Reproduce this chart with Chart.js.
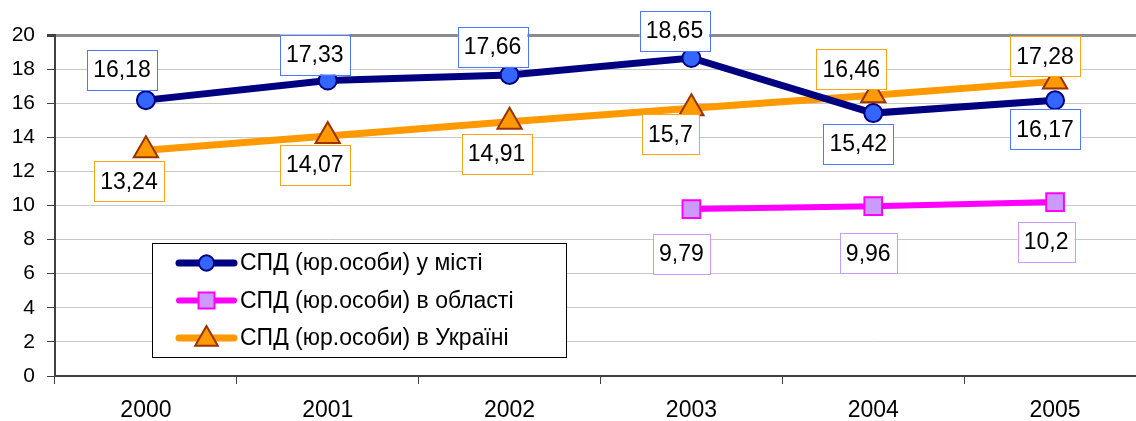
<!DOCTYPE html>
<html>
<head>
<meta charset="utf-8">
<script src="https://cdn.jsdelivr.net/npm/chart.js@4.4.1/dist/chart.umd.min.js"></script>
<style>
  html, body { margin: 0; padding: 0; background: #fff; overflow: hidden; }
  #wrap { width: 1162px; height: 421px; }
</style>
</head>
<body>
<div id="wrap"><canvas id="chart" width="1162" height="421"></canvas></div>
<script>
  // ---- data ----
  var years = ['2000', '2001', '2002', '2003', '2004', '2005'];
  var cityValues = [16.18, 17.33, 17.66, 18.65, 15.42, 16.17];
  var oblastValues = [null, null, null, 9.79, 9.96, 10.2];
  var ukraineValues = [13.24, 14.07, 14.91, 15.7, 16.46, 17.28];
  var yTicks = [0, 2, 4, 6, 8, 10, 12, 14, 16, 18, 20];
  var seriesNames = ['СПД (юр.особи) у місті', 'СПД (юр.особи) в області', 'СПД (юр.особи) в Україні'];

  // value-label box offsets from each point (px): left shift, vertical shift
  var cityLabelDx = [24, 13, 17, 17, 15, 10];
  var cityLabelDy = [-30, -26, -28, -27, 31, 29];
  var oblastLabelDx = [0, 0, 0, 10, 5, 9];
  var oblastLabelDy = [45, 45, 45, 45, 47, 40];
  var ukraineLabelDx = [17, 13, 13, 21, 22, 10];
  var ukraineLabelDy = [31, 29, 32, 26, -26, -25];

  var FONT = "'Liberation Sans', Arial, sans-serif";

  // boxed value labels
  var valueLabels = {
    id: 'valueLabels',
    afterDatasetsDraw: function (chart) {
      var ctx = chart.ctx;
      ctx.save();
      ctx.font = '23px ' + FONT;
      ctx.textAlign = 'center';
      ctx.textBaseline = 'middle';
      chart.data.datasets.forEach(function (ds, i) {
        var meta = chart.getDatasetMeta(i);
        meta.data.forEach(function (pt, j) {
          var v = ds.data[j];
          if (v === null || v === undefined) return;
          var txt = String(v).replace('.', ',');
          var w = ctx.measureText(txt).width + 12;
          var h = 40;
          var cx = pt.x - ds.labelDx[j];
          var cy = pt.y + ds.labelDy[j];
          ctx.fillStyle = '#fff';
          ctx.fillRect(cx - w / 2, cy - h / 2, w, h);
          ctx.strokeStyle = ds.labelBorder;
          ctx.lineWidth = 1;
          ctx.strokeRect(Math.round(cx - w / 2) + 0.5, Math.round(cy - h / 2) + 0.5, Math.round(w), h);
          ctx.fillStyle = '#000';
          ctx.fillText(txt, cx, cy + 1);
        });
      });
      ctx.restore();
    }
  };

  function drawMarker(ctx, ds, x, y, scale) {
    ctx.fillStyle = ds.pointBackgroundColor;
    ctx.strokeStyle = ds.pointBorderColor;
    ctx.lineWidth = ds.pointBorderWidth;
    var r = ds.pointRadius * scale;
    ctx.beginPath();
    if (ds.pointStyle === 'circle') {
      ctx.arc(x, y, r, 0, Math.PI * 2);
    } else if (ds.pointStyle === 'rect') {
      ctx.rect(x - r * 0.75, y - r * 0.75, r * 1.5, r * 1.5);
    } else {
      ctx.moveTo(x, y - r);
      ctx.lineTo(x + r * 0.95, y + r * 0.65);
      ctx.lineTo(x - r * 0.95, y + r * 0.65);
      ctx.closePath();
    }
    ctx.fill();
    ctx.stroke();
  }

  // legend box inside the plot
  var boxLegend = {
    id: 'boxLegend',
    afterDraw: function (chart) {
      var ctx = chart.ctx;
      var x0 = 152, y0 = 243, w = 414, h = 114;
      ctx.save();
      ctx.fillStyle = '#fff';
      ctx.fillRect(x0, y0, w, h);
      ctx.strokeStyle = '#000';
      ctx.lineWidth = 1;
      ctx.strokeRect(x0 + 0.5, y0 + 0.5, w, h);
      ctx.font = '23px ' + FONT;
      ctx.textBaseline = 'middle';
      chart.data.datasets.forEach(function (ds, i) {
        var yy = y0 + 20 + i * 37.5;
        ctx.strokeStyle = ds.borderColor;
        ctx.lineWidth = ds.borderWidth;
        ctx.lineCap = 'round';
        ctx.beginPath();
        ctx.moveTo(179, yy);
        ctx.lineTo(234, yy);
        ctx.stroke();
        drawMarker(ctx, ds, 206.5, yy, 0.85);
        ctx.fillStyle = '#000';
        ctx.fillText(ds.label, 240, yy + 1);
      });
      ctx.restore();
    }
  };

  new Chart(document.getElementById('chart'), {
    type: 'line',
    data: {
      labels: years,
      datasets: [
        {
          label: seriesNames[0],
          data: cityValues,
          borderColor: '#000080',
          borderWidth: 7,
          pointStyle: 'circle',
          pointRadius: 9,
          pointBackgroundColor: '#3366ff',
          pointBorderColor: '#000080',
          pointBorderWidth: 2,
          labelBorder: '#4d79ff',
          labelDx: cityLabelDx,
          labelDy: cityLabelDy
        },
        {
          label: seriesNames[1],
          data: oblastValues,
          borderColor: '#ff00ff',
          borderWidth: 6,
          pointStyle: 'rect',
          pointRadius: 12.5,
          pointBackgroundColor: '#cc99ff',
          pointBorderColor: '#ff00ff',
          pointBorderWidth: 2,
          labelBorder: '#cc99ff',
          labelDx: oblastLabelDx,
          labelDy: oblastLabelDy
        },
        {
          label: seriesNames[2],
          data: ukraineValues,
          borderColor: '#ff9900',
          borderWidth: 7,
          pointStyle: 'triangle',
          pointRadius: 14,
          pointBackgroundColor: '#ff9900',
          pointBorderColor: '#993300',
          pointBorderWidth: 2,
          labelBorder: '#ffa31a',
          labelDx: ukraineLabelDx,
          labelDy: ukraineLabelDy
        }
      ]
    },
    options: {
      responsive: false,
      animation: false,
      spanGaps: false,
      layout: { padding: { top: 35, left: 0, right: 0, bottom: 0 } },
      elements: { line: { tension: 0 } },
      plugins: {
        legend: { display: false },
        tooltip: { enabled: false }
      },
      scales: {
        x: {
          offset: true,
          grid: {
            offset: true,
            drawOnChartArea: false,
            drawTicks: true,
            tickLength: 8,
            color: '#404040'
          },
          border: { color: '#404040', width: 2 },
          ticks: {
            color: '#000',
            padding: 13,
            font: { size: 23, family: FONT }
          },
          afterFit: function (s) { s.height = 45; }
        },
        y: {
          min: 0,
          max: 20,
          afterBuildTicks: function (s) {
            s.ticks = yTicks.map(function (v) { return { value: v }; });
          },
          grid: {
            color: function (c) { return c.tick && c.tick.value === 20 ? '#8c8c8c' : '#c8c8c8'; },
            lineWidth: function (c) { return c.tick && c.tick.value === 20 ? 3 : 1; },
            tickColor: '#404040',
            tickLength: 8
          },
          border: { color: '#404040', width: 2 },
          ticks: {
            color: '#000',
            padding: 12,
            font: { size: 21, family: FONT }
          },
          afterFit: function (s) { s.width = 55; }
        }
      }
    },
    plugins: [valueLabels, boxLegend]
  });
</script>
</body>
</html>
